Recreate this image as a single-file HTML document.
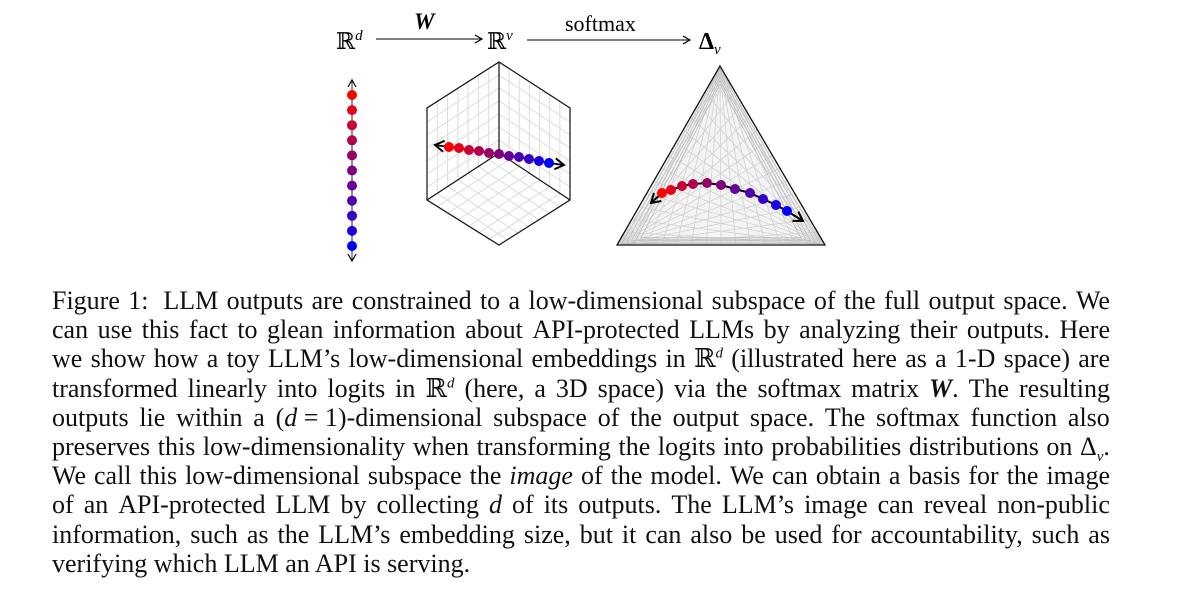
<!DOCTYPE html>
<html><head><meta charset="utf-8"><style>
html,body{margin:0;padding:0;background:#fff;}
body{width:1180px;height:602px;position:relative;overflow:hidden;font-family:"Liberation Serif","DejaVu Serif",serif;}
svg{position:absolute;left:0;top:0;}
.cap{position:absolute;left:52px;width:1058px;font-size:26px;line-height:29.2px;top:286px;color:#111;}
.cap div{white-space:nowrap;height:29.2px;display:flex;justify-content:space-between;}
.cap div.l{display:block;text-align:left;}
sup,sub{line-height:0;}
</style></head><body>
<svg id="fig" width="1180" height="280" viewBox="0 0 1180 280">
<defs>
<marker id="ah" markerWidth="10" markerHeight="10" refX="8" refY="5" orient="auto" markerUnits="userSpaceOnUse"><path d="M1,1 L8,5 L1,9" fill="none" stroke="#000" stroke-width="1.2"/></marker>
<marker id="ahb" markerWidth="14" markerHeight="14" refX="11" refY="7" orient="auto" markerUnits="userSpaceOnUse"><path d="M2,1.5 L11,7 L2,12.5" fill="none" stroke="#000" stroke-width="2"/></marker>
</defs>
<g font-family="Liberation Serif, DejaVu Serif, serif" fill="#000">
<text x="336" y="49" font-size="23">ℝ<tspan dy="-9" font-size="15" font-style="italic">d</tspan></text>
<text x="414" y="29" font-size="23" font-weight="bold" font-style="italic">W</text>
<text x="487" y="49" font-size="23">ℝ<tspan dy="-9" font-size="15" font-style="italic">v</tspan></text>
<text x="565" y="31" font-size="22">softmax</text>
<text x="699" y="49" font-size="24" font-weight="bold">Δ<tspan dy="5" font-size="15" font-style="italic" font-weight="normal">v</tspan></text>
</g>
<line x1="376" y1="39" x2="482" y2="39" stroke="#000" stroke-width="1" marker-end="url(#ah)"/>
<line x1="527" y1="40" x2="690" y2="40" stroke="#000" stroke-width="1" marker-end="url(#ah)"/>
<g id="g"></g>
</svg>
<div class="cap">
<div><span>Figure</span><span>1:</span><span>&nbsp;LLM</span><span>outputs</span><span>are</span><span>constrained</span><span>to</span><span>a</span><span>low-dimensional</span><span>subspace</span><span>of</span><span>the</span><span>full</span><span>output</span><span>space.</span><span>We</span></div>
<div><span>can</span><span>use</span><span>this</span><span>fact</span><span>to</span><span>glean</span><span>information</span><span>about</span><span>API-protected</span><span>LLMs</span><span>by</span><span>analyzing</span><span>their</span><span>outputs.</span><span>Here</span></div>
<div><span>we</span><span>show</span><span>how</span><span>a</span><span>toy</span><span>LLM’s</span><span>low-dimensional</span><span>embeddings</span><span>in</span><span>ℝ<sup style="font-size:15px;font-style:italic">d</sup></span><span>(illustrated</span><span>here</span><span>as</span><span>a</span><span>1-D</span><span>space)</span><span>are</span></div>
<div><span>transformed</span><span>linearly</span><span>into</span><span>logits</span><span>in</span><span>ℝ<sup style="font-size:15px;font-style:italic">d</sup></span><span>(here,</span><span>a</span><span>3D</span><span>space)</span><span>via</span><span>the</span><span>softmax</span><span>matrix</span><span><b><i>W</i></b>.</span><span>The</span><span>resulting</span></div>
<div><span>outputs</span><span>lie</span><span>within</span><span>a</span><span>(<i>d</i> = 1)-dimensional</span><span>subspace</span><span>of</span><span>the</span><span>output</span><span>space.</span><span>The</span><span>softmax</span><span>function</span><span>also</span></div>
<div><span>preserves</span><span>this</span><span>low-dimensionality</span><span>when</span><span>transforming</span><span>the</span><span>logits</span><span>into</span><span>probabilities</span><span>distributions</span><span>on</span><span>Δ<sub style="font-size:15px;font-style:italic">v</sub>.</span></div>
<div><span>We</span><span>call</span><span>this</span><span>low-dimensional</span><span>subspace</span><span>the</span><span><i>image</i></span><span>of</span><span>the</span><span>model.</span><span>We</span><span>can</span><span>obtain</span><span>a</span><span>basis</span><span>for</span><span>the</span><span>image</span></div>
<div><span>of</span><span>an</span><span>API-protected</span><span>LLM</span><span>by</span><span>collecting</span><span><i>d</i></span><span>of</span><span>its</span><span>outputs.</span><span>The</span><span>LLM’s</span><span>image</span><span>can</span><span>reveal</span><span>non-public</span></div>
<div><span>information,</span><span>such</span><span>as</span><span>the</span><span>LLM’s</span><span>embedding</span><span>size,</span><span>but</span><span>it</span><span>can</span><span>also</span><span>be</span><span>used</span><span>for</span><span>accountability,</span><span>such</span><span>as</span></div>
<div class="l">verifying which LLM an API is serving.</div>
</div>
<script>
(function(){
var g=document.getElementById('g'),NS='http://www.w3.org/2000/svg';
function el(t,a){var e=document.createElementNS(NS,t);for(var k in a)e.setAttribute(k,a[k]);g.appendChild(e);return e;}
function ln(x1,y1,x2,y2,s,w){return el('line',{x1:x1,y1:y1,x2:x2,y2:y2,stroke:s,'stroke-width':w||1});}
function col(i,n){var t=i/(n-1);return 'rgb('+Math.round(255*(1-t))+',0,'+Math.round(255*t)+')';}
var T=[499,62],UR=[570,108],LR=[570,200],B=[499,245],LL=[427,200],UL=[427,108],C=[499,153];
function face(P0,P1,P3,n){
  for(var i=1;i<n;i++){var t=i/n;
    var a=[P0[0]+(P1[0]-P0[0])*t,P0[1]+(P1[1]-P0[1])*t];
    var b=[a[0]+(P3[0]-P0[0]),a[1]+(P3[1]-P0[1])];
    ln(a[0],a[1],b[0],b[1],'#dcdcdc',1);
    var c=[P0[0]+(P3[0]-P0[0])*t,P0[1]+(P3[1]-P0[1])*t];
    var d=[c[0]+(P1[0]-P0[0]),c[1]+(P1[1]-P0[1])];
    ln(c[0],c[1],d[0],d[1],'#dcdcdc',1);}
}
face(C,T,LL,7);face(C,T,LR,7);face(C,LL,LR,7);
el('polygon',{points:[T,UR,LR,B,LL,UL].join(' '),fill:'none',stroke:'#111','stroke-width':1.2});
ln(C[0],C[1],T[0],T[1],'#111',1.2);ln(C[0],C[1],LL[0],LL[1],'#111',1.2);ln(C[0],C[1],LR[0],LR[1],'#111',1.2);
var A=[720,66],BL=[617,245],BR=[825,245];
el('polygon',{points:[A,BL,BR].join(' '),fill:'#f4f4f4',stroke:'none'});
var n=14;
for(var i=1;i<n;i++){var t=i/n;
  var p=[BL[0]+(BR[0]-BL[0])*t,245];ln(A[0],A[1],p[0],p[1],'#d2d2d2',0.8);
  var q=[A[0]+(BR[0]-A[0])*t,A[1]+(BR[1]-A[1])*t];ln(BL[0],BL[1],q[0],q[1],'#d2d2d2',0.8);
  var r=[A[0]+(BL[0]-A[0])*t,A[1]+(BL[1]-A[1])*t];ln(BR[0],BR[1],r[0],r[1],'#d2d2d2',0.8);}
for(var i=1;i<6;i++){var t=i*0.012;
  el('polygon',{points:[[A[0],A[1]+t*300],[BL[0]+t*400,BL[1]-t*120],[BR[0]-t*400,BR[1]-t*120]].join(' '),fill:'none',stroke:'#bbb','stroke-width':0.8});}
el('polygon',{points:[A,BL,BR].join(' '),fill:'none',stroke:'#111','stroke-width':1.3});
ln(352,90,352,252,'#555',1.3);
el('line',{x1:352,y1:95,x2:352,y2:80,stroke:'#333','stroke-width':1,'marker-end':'url(#ah)'});
el('line',{x1:352,y1:246,x2:352,y2:261,stroke:'#333','stroke-width':1,'marker-end':'url(#ah)'});
for(var i=0;i<11;i++)el('circle',{cx:352,cy:95+i*15.1,r:5,fill:col(i,11)});
var cd=[[449,147],[459,148],[469,150],[479,151],[489,153],[499,154],[509,156],[519,157],[529,159],[539,161],[549,163]];
el('path',{d:'M449,147 L435,145',stroke:'#000','stroke-width':1.8,fill:'none','marker-end':'url(#ahb)'});
el('path',{d:'M549,163 L564,165',stroke:'#000','stroke-width':1.8,fill:'none','marker-end':'url(#ahb)'});
el('polyline',{points:cd.join(' '),stroke:'#000','stroke-width':1.8,fill:'none'});
cd.forEach(function(p,i){el('circle',{cx:p[0],cy:p[1],r:5,fill:col(i,11)});});
var td=[[662,193],[671,190],[682,186],[693,184],[707,183],[721,185],[735,189],[750,193],[763,199],[776,205],[787,211]];
el('path',{d:'M662,193 L651,203',stroke:'#000','stroke-width':2,fill:'none','marker-end':'url(#ahb)'});
el('path',{d:'M787,211 L803,221',stroke:'#000','stroke-width':2,fill:'none','marker-end':'url(#ahb)'});
el('polyline',{points:td.join(' '),stroke:'#000','stroke-width':2,fill:'none'});
td.forEach(function(p,i){el('circle',{cx:p[0],cy:p[1],r:5,fill:col(i,11)});});
})();
</script>
</body></html>
